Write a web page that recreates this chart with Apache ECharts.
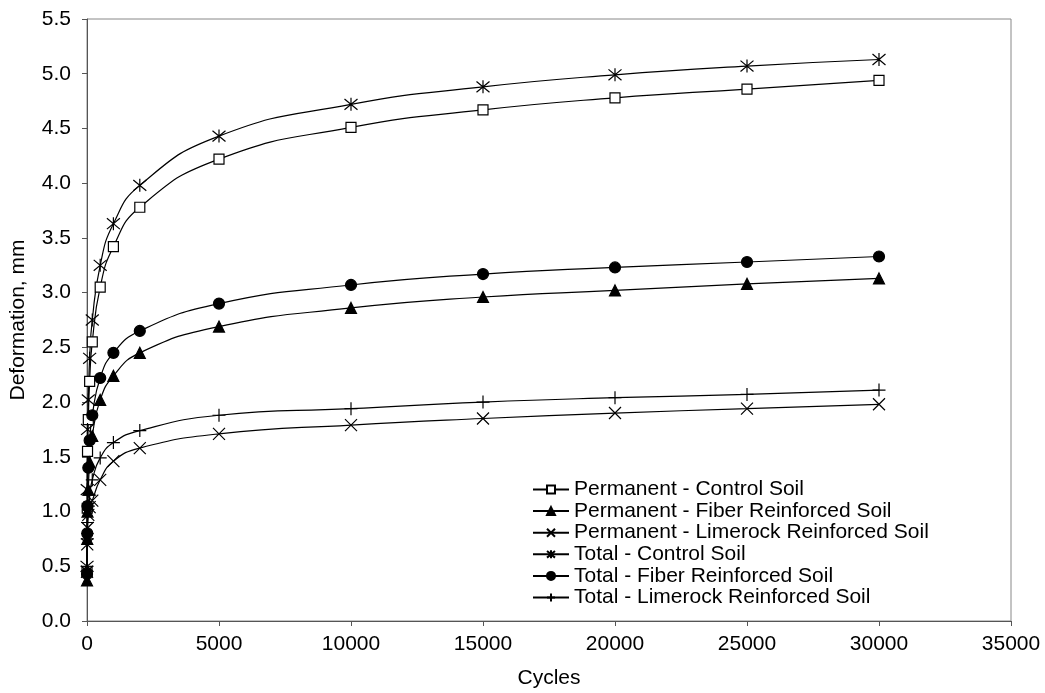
<!DOCTYPE html>
<html>
<head>
<meta charset="utf-8">
<script src="https://cdn.jsdelivr.net/npm/echarts@6/dist/echarts.min.js"></script>
<style>html,body{margin:0;padding:0;background:#fff}#c{width:1045px;height:693px}</style>
</head>
<body>
<div id="c"></div>
<script>
const cycles = [1, 10, 20, 50, 100, 200, 500, 1000, 2000, 5000, 10000, 15000, 20000, 25000, 30000];
const permControl = [0.45, 1.03, 1.55, 1.84, 2.19, 2.55, 3.05, 3.42, 3.78, 4.22, 4.51, 4.67, 4.78, 4.86, 4.94];
const permFiber = [0.37, 0.75, 1.00, 1.20, 1.45, 1.69, 2.02, 2.24, 2.45, 2.69, 2.86, 2.96, 3.02, 3.08, 3.13];
const permLimerock = [0.45, 0.70, 0.85, 0.97, 1.04, 1.10, 1.29, 1.46, 1.58, 1.71, 1.79, 1.85, 1.90, 1.94, 1.98];
const totalControl = [0.50, 1.20, 1.75, 2.02, 2.40, 2.75, 3.25, 3.63, 3.98, 4.43, 4.72, 4.88, 4.99, 5.07, 5.13];
const totalFiber = [0.43, 0.80, 1.05, 1.40, 1.65, 1.88, 2.22, 2.45, 2.65, 2.90, 3.07, 3.17, 3.23, 3.28, 3.33];
const totalLimerock = [0.50, 0.75, 0.90, 1.05, 1.15, 1.29, 1.49, 1.63, 1.74, 1.88, 1.94, 2.00, 2.04, 2.07, 2.11];
const seriesNames = ['Permanent - Control Soil', 'Permanent - Fiber Reinforced Soil', 'Permanent - Limerock Reinforced Soil',
  'Total - Control Soil', 'Total - Fiber Reinforced Soil', 'Total - Limerock Reinforced Soil'];
const xTitle = 'Cycles';
const yTitle = 'Deformation, mm';

const FONT = '"Liberation Sans", Arial, sans-serif';
const FS = 21;
const pair = arr => cycles.map((c, i) => [c, arr[i]]);
const styles = [
  {symbol: 'rect', size: 10, fill: '#fff'},
  {symbol: 'triangle', size: 11, fill: '#000'},
  {symbol: 'path://M0,0L10,10M10,0L0,10', size: 12, fill: '#000'},
  {symbol: 'path://M0,0L10,10M10,0L0,10M5,-1L5,11', size: 13, fill: '#000'},
  {symbol: 'circle', size: 11, fill: '#000'},
  {symbol: 'path://M5,0L5,10M0,5L10,5', size: 13, fill: '#000'}
];
const datas = [permControl, permFiber, permLimerock, totalControl, totalFiber, totalLimerock];

const chart = echarts.init(document.getElementById('c'), null, {renderer: 'canvas'});
chart.setOption({
  animation: false,
  backgroundColor: '#fff',
  grid: {left: 87, right: 34, top: 19, bottom: 72, show: true, borderColor: '#888', borderWidth: 1,
         containLabel: false, outerBoundsMode: 'none'},
  xAxis: {
    type: 'value', min: 0, max: 35000, interval: 5000,
    name: xTitle, nameLocation: 'middle', nameGap: 47,
    nameTextStyle: {fontFamily: FONT, fontSize: FS, color: '#000'},
    axisLine: {lineStyle: {color: '#555', width: 1}},
    axisTick: {show: true, length: 5, lineStyle: {color: '#555'}},
    axisLabel: {fontFamily: FONT, fontSize: FS, color: '#000', margin: 13, formatter: v => String(v)},
    splitLine: {show: false}
  },
  yAxis: {
    type: 'value', min: 0, max: 5.5, interval: 0.5,
    name: yTitle, nameLocation: 'middle', nameGap: 58,
    nameTextStyle: {fontFamily: FONT, fontSize: FS, color: '#000'},
    axisLine: {show: true, lineStyle: {color: '#555', width: 1}},
    axisTick: {show: true, length: 5, lineStyle: {color: '#555'}},
    axisLabel: {fontFamily: FONT, fontSize: FS, color: '#000', margin: 16, formatter: v => v.toFixed(1)},
    splitLine: {show: false}
  },
  legend: {
    orient: 'vertical', left: 527, top: 474, itemWidth: 36, itemHeight: 10, itemGap: 0.6,
    textStyle: {fontFamily: FONT, fontSize: FS, color: '#000'},
    data: seriesNames
  },
  series: seriesNames.map((n, i) => ({
    name: n, type: 'line', data: pair(datas[i]),
    smooth: 0.5,
    symbol: styles[i].symbol, symbolSize: styles[i].size,
    lineStyle: {color: '#000', width: 1.2},
    itemStyle: {color: styles[i].fill, borderColor: '#000', borderWidth: 1.2},
    emphasis: {disabled: true}
  }))
});
</script>
</body>
</html>
